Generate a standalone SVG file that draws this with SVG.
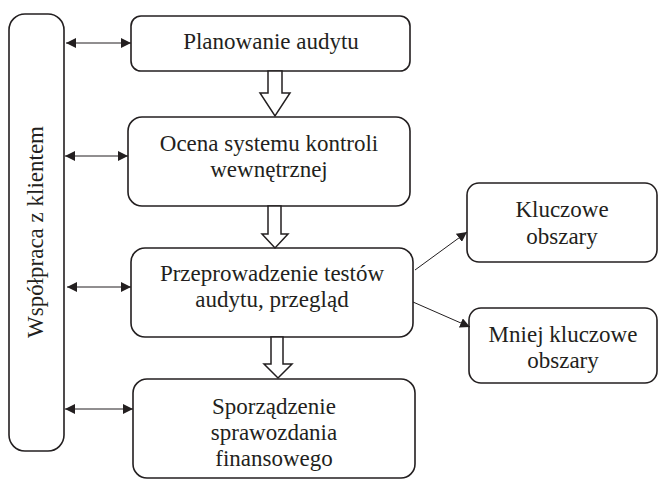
<svg xmlns="http://www.w3.org/2000/svg" width="659" height="481" viewBox="0 0 659 481">
<defs>
<style>
.box{fill:#fff;stroke:#231f20;stroke-width:1.6}
.t{font-family:"Liberation Serif","Times New Roman",serif;font-size:23px;fill:#231f20;text-anchor:middle}
.ln{stroke:#231f20;stroke-width:1;fill:none}
.big{fill:#fff;stroke:#231f20;stroke-width:1.5;stroke-linejoin:miter}
</style>
<marker id="ah" viewBox="0 0 10 10" refX="10" refY="5" markerWidth="10" markerHeight="10" markerUnits="userSpaceOnUse" orient="auto-start-reverse">
<path d="M0,0 L10,5 L0,10 z" fill="#231f20"/>
</marker>
</defs>
<rect width="659" height="481" fill="#fff"/>
<g id="wspolpraca">
<rect class="box" x="9" y="14" width="55" height="437" rx="16"/>
<text class="t" transform="translate(43,232) rotate(-90)">Współpraca z klientem</text>
</g>
<g id="planowanie">
<rect class="box" x="131" y="16" width="279" height="55" rx="10"/>
<text class="t" x="271" y="49">Planowanie audytu</text>
</g>
<g id="ocena">
<rect class="box" x="128" y="117" width="282" height="89" rx="14"/>
<text class="t" x="269" y="151">Ocena systemu kontroli</text>
<text class="t" x="269" y="177">wewnętrznej</text>
</g>
<g id="przeprowadzenie">
<rect class="box" x="131" y="248" width="282" height="89" rx="14"/>
<text class="t" x="272" y="281">Przeprowadzenie testów</text>
<text class="t" x="272" y="307">audytu, przegląd</text>
</g>
<g id="sporzadzenie">
<rect class="box" x="133" y="379" width="282" height="99" rx="14"/>
<text class="t" x="274" y="414">Sporządzenie</text>
<text class="t" x="274" y="440">sprawozdania</text>
<text class="t" x="274" y="466">finansowego</text>
</g>
<g id="kluczowe">
<rect class="box" x="467" y="183" width="190" height="79" rx="12"/>
<text class="t" x="562" y="217">Kluczowe</text>
<text class="t" x="562" y="244">obszary</text>
</g>
<g id="mniej">
<rect class="box" x="469" y="308" width="188" height="75" rx="12"/>
<text class="t" x="563" y="342">Mniej kluczowe</text>
<text class="t" x="563" y="368">obszary</text>
</g>
<g id="connectors">
<line class="ln" x1="66" y1="43" x2="131" y2="43" marker-start="url(#ah)" marker-end="url(#ah)"/>
<line class="ln" x1="65" y1="156" x2="128" y2="156" marker-start="url(#ah)" marker-end="url(#ah)"/>
<line class="ln" x1="67" y1="287" x2="131" y2="287" marker-start="url(#ah)" marker-end="url(#ah)"/>
<line class="ln" x1="65" y1="409" x2="133" y2="409" marker-start="url(#ah)" marker-end="url(#ah)"/>
<path class="big" d="M268,71 L282,71 L282,93 L290,93 L275,116 L260,93 L268,93 Z"/>
<path class="big" d="M268,206 L281,206 L281,234 L288,234 L275,248 L262,234 L268,234 Z"/>
<path class="big" d="M271,337 L283,337 L283,364 L292,364 L278,378 L264,364 L271,364 Z"/>
<line class="ln" x1="415" y1="270" x2="467" y2="232" marker-end="url(#ah)"/>
<line class="ln" x1="413" y1="302" x2="470" y2="327" marker-end="url(#ah)"/>
</g>
</svg>
